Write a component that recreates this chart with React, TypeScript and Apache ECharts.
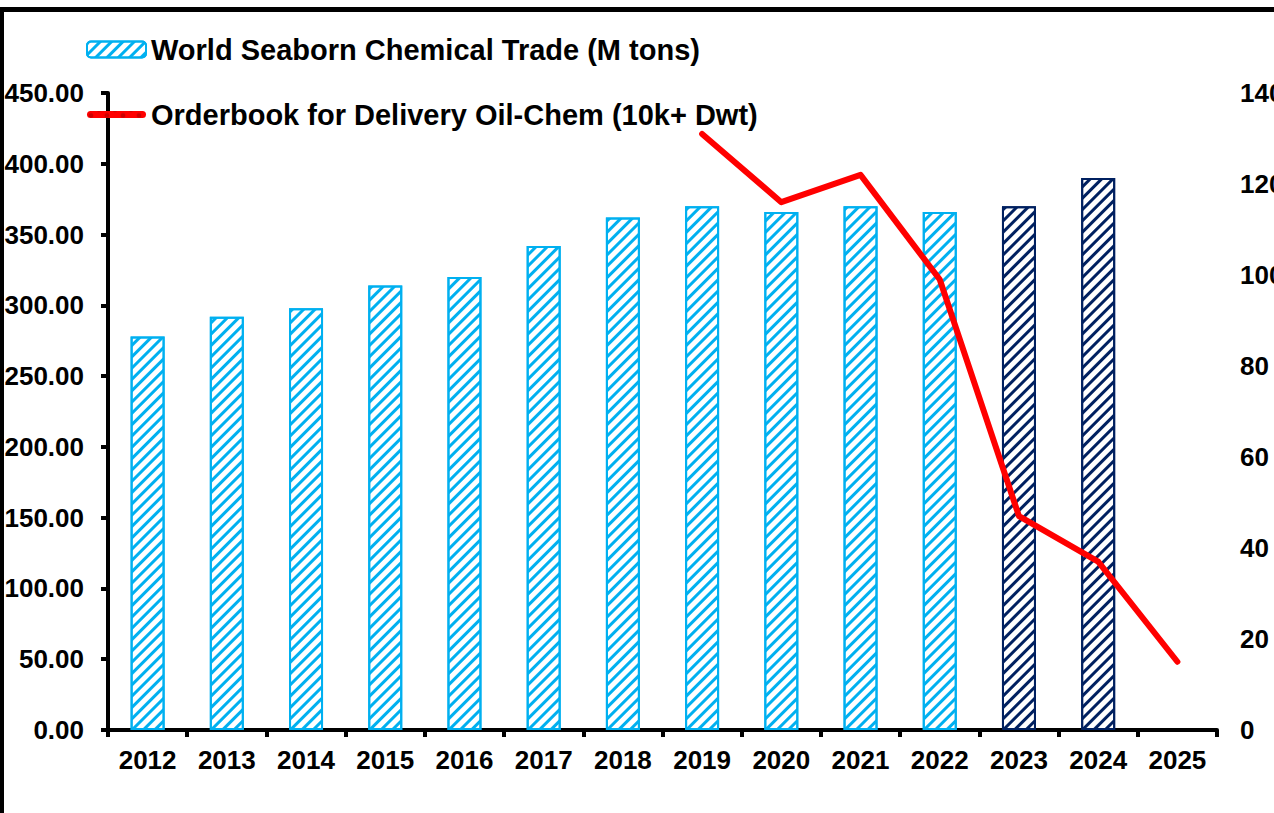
import React, { useEffect, useRef } from "react";
import * as echarts from "echarts";

const categories = ["2012", "2013", "2014", "2015", "2016", "2017", "2018", "2019", "2020", "2021", "2022", "2023", "2024", "2025"];
const tradeValues = [278, 292, 298, 314, 320, 342, 362, 370, 366, 370, 366, 370, 390, null];
const orderbookValues = [null, null, null, null, null, null, null, 131, 116, 122, 99, 47, 37, 15];
const darkBarYears = ["2023", "2024"];

const FONT = "'Liberation Sans', Arial, sans-serif";
const LIGHT = "#00b0f0";
const DARK = "#002060";

function hatch(color: string) {
  return {
    symbol: "rect",
    symbolSize: 1,
    dashArrayX: [[1, 0]],
    dashArrayY: [3, 5],
    rotation: -Math.PI / 4,
    color,
  };
}

export default function App() {
  const ref = useRef<HTMLDivElement>(null);
  useEffect(() => {
    document.body.style.margin = "0";
    const chart = echarts.init(ref.current!, null, { renderer: "svg" });
    const barData = tradeValues.map((v, i) =>
      darkBarYears.includes(categories[i])
        ? { value: v, itemStyle: { color: "#fff", borderColor: DARK, borderWidth: 2, decal: hatch(DARK) } }
        : v
    );
    chart.setOption({
      animation: false,
      aria: { enabled: true, decal: { show: true } },
      textStyle: { fontFamily: FONT },
      grid: { left: 108, right: 57, top: 93, bottom: 83, containLabel: false, outerBoundsMode: "none" },
      legend: {
        orient: "vertical",
        left: 81,
        top: 30,
        itemWidth: 59,
        itemHeight: 16,
        itemGap: 36,
        textStyle: { fontFamily: FONT, fontWeight: "bold", fontSize: 29, color: "#000" },
        data: [
          { name: "World Seaborn Chemical Trade (M tons)" },
          {
            name: "Orderbook for Delivery Oil-Chem (10k+ Dwt)",
            icon: "path://M3.5,0 L55.5,0 A3.5,3.5 0 0 1 55.5,7 L3.5,7 A3.5,3.5 0 0 1 3.5,0 Z",
            itemStyle: { color: "#ff0000" },
          },
        ],
      },
      xAxis: {
        type: "category",
        data: categories,
        axisLine: { lineStyle: { color: "#000", width: 4 } },
        axisTick: { show: true, length: 7, lineStyle: { color: "#000", width: 4 } },
        axisLabel: { color: "#000", fontWeight: "bold", fontSize: 26, fontFamily: FONT, margin: 17 },
      },
      yAxis: [
        {
          type: "value",
          min: 0,
          max: 450,
          interval: 50,
          axisLine: { show: true, lineStyle: { color: "#000", width: 4 } },
          axisTick: { show: true, length: 7, lineStyle: { color: "#000", width: 4 } },
          splitLine: { show: false },
          axisLabel: {
            color: "#000",
            fontWeight: "bold",
            fontSize: 26,
            fontFamily: FONT,
            margin: 24,
            formatter: (v: number) => v.toFixed(2),
          },
        },
        {
          type: "value",
          min: 0,
          max: 140,
          interval: 20,
          position: "right",
          axisLine: { show: false },
          axisTick: { show: false },
          splitLine: { show: false },
          axisLabel: { color: "#000", fontWeight: "bold", fontSize: 26, fontFamily: FONT, margin: 23 },
        },
      ],
      series: [
        {
          name: "World Seaborn Chemical Trade (M tons)",
          type: "bar",
          data: barData,
          barWidth: 34,
          itemStyle: { color: "#fff", borderColor: LIGHT, borderWidth: 2, decal: hatch(LIGHT) },
        },
        {
          name: "Orderbook for Delivery Oil-Chem (10k+ Dwt)",
          type: "line",
          yAxisIndex: 1,
          data: orderbookValues,
          symbol: "none",
          showSymbol: false,
          itemStyle: { color: "#ff0000" },
          lineStyle: { color: "#ff0000", width: 6, cap: "round", join: "round" },
        },
      ],
      graphic: [
        { type: "rect", shape: { x: 0, y: 7, width: 1274, height: 5 }, style: { fill: "#000" } },
        { type: "rect", shape: { x: 0, y: 7, width: 4, height: 806 }, style: { fill: "#000" } },
      ],
    });
    return () => chart.dispose();
  }, []);
  return <div ref={ref} style={{ position: "absolute", left: 0, top: 0, width: 1274, height: 813 }} />;
}
